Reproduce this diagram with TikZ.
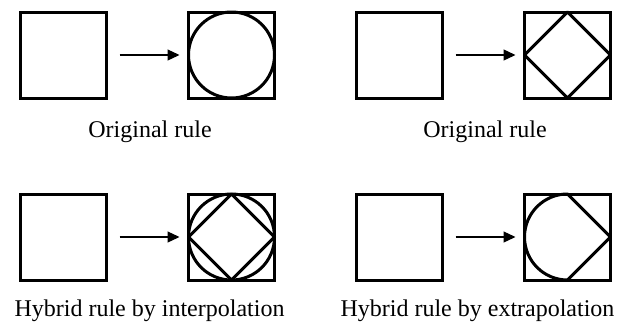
\documentclass[tikz,border=0pt]{standalone}
\usepackage{fontspec}
\setmainfont{Liberation Serif}
\usetikzlibrary{arrows.meta}
\tikzset{
  sq/.style={draw, line width=3pt, minimum size=86pt, inner sep=0pt, outer sep=0pt},
  fig/.style={line width=3pt, line join=round},
  arr/.style={line width=1.3pt, -{Triangle[length=12pt,width=11pt]}},
  lbl/.style={anchor=base, inner sep=0pt, font=\fontsize{24}{28}\selectfont}
}
\begin{document}
\begin{tikzpicture}[x=1pt, y=-1pt]
\useasboundingbox (0,0) rectangle (627,322);
% top-left: original rule (circle)
\node[sq] (a1) at (63.5,55) {};
\node[sq] (a2) at (231.5,55) {};
\draw[fig] (a2.center) circle (43pt);
\draw[arr, shorten <=13pt, shorten >=9pt] (a1.east) -- (a2.west);
\node[lbl] (la) at (150,137) {Original rule};
% top-right: original rule (diamond)
\node[sq] (b1) at (399.5,55) {};
\node[sq] (b2) at (567.5,55) {};
\draw[fig] (b2.north) -- (b2.east) -- (b2.south) -- (b2.west) -- cycle;
\draw[arr, shorten <=13pt, shorten >=9pt] (b1.east) -- (b2.west);
\node[lbl] (lb) at (485,137) {Original rule};
% bottom-left: interpolation
\node[sq] (c1) at (63.5,237) {};
\node[sq] (c2) at (231.5,237) {};
\draw[fig] (c2.center) circle (43pt);
\draw[fig] (c2.north) -- (c2.east) -- (c2.south) -- (c2.west) -- cycle;
\draw[arr, shorten <=13pt, shorten >=9pt] (c1.east) -- (c2.west);
\node[lbl] (lc) at (149.5,316) {Hybrid rule by interpolation};
% bottom-right: extrapolation
\node[sq] (d1) at (399.5,237) {};
\node[sq] (d2) at (567.5,237) {};
\draw[fig] (d2.north) arc[start angle=90, end angle=270, radius=43pt] -- (d2.east) -- cycle;
\draw[arr, shorten <=13pt, shorten >=9pt] (d1.east) -- (d2.west);
\node[lbl] (ld) at (477.5,316) {Hybrid rule by extrapolation};
\end{tikzpicture}
\end{document}
